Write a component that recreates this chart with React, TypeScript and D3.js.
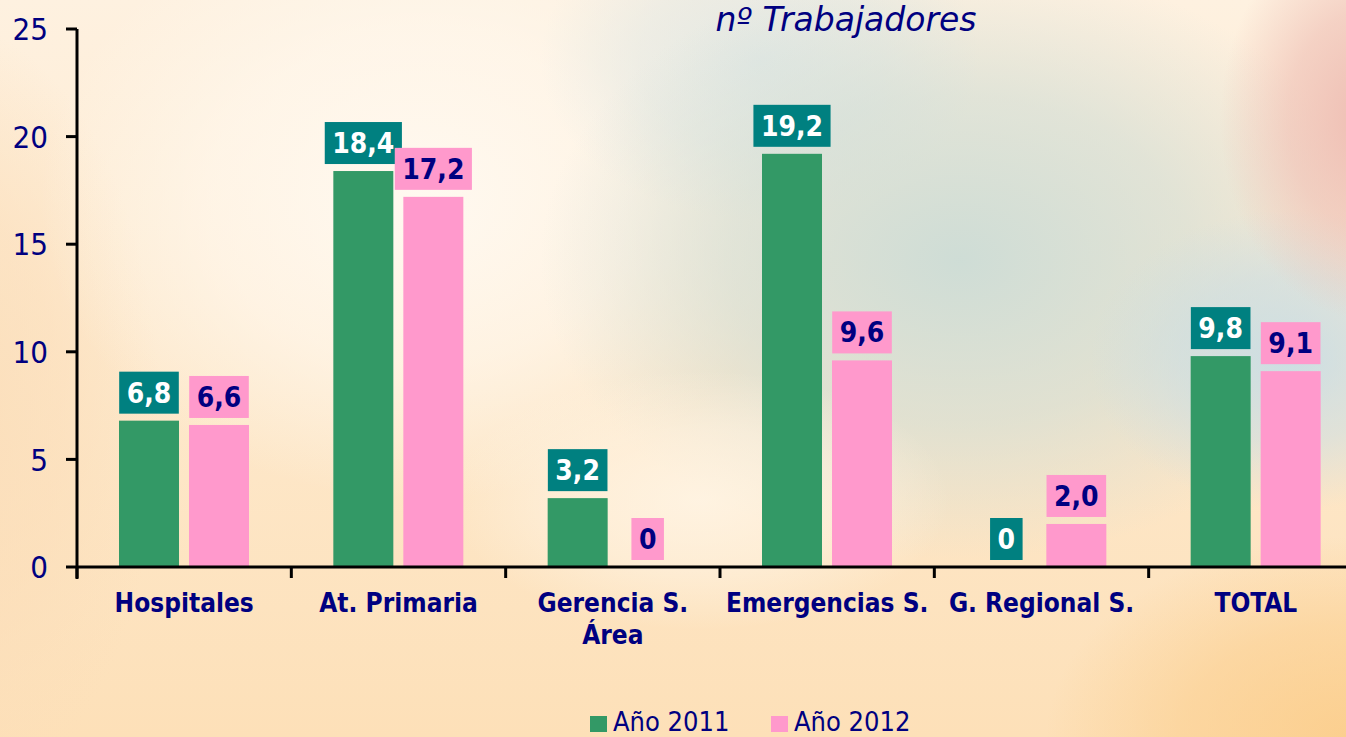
import React, { useEffect, useRef } from "react";
import * as d3 from "d3";

const categories = ["Hospitales", "At. Primaria", "Gerencia S.|Área", "Emergencias S.", "G. Regional S.", "TOTAL"];
const series = ["Año 2011", "Año 2012"];
const values2011 = [6.8, 18.4, 3.2, 19.2, 0, 9.8];
const values2012 = [6.6, 17.2, 0, 9.6, 2.0, 9.1];
const yTicks = [0, 5, 10, 15, 20, 25];

const W = 1346;
const H = 737;
const NAVY = "#000080";
const barColors = ["#339966", "#FF99CC"];
const boxColors = ["#008080", "#FF99CC"];
const boxText = ["#FFFFFF", "#000080"];
const FONT = "'DejaVu Sans Condensed', 'DejaVu Sans', Verdana, sans-serif";

function fmt(v: number) {
  if (v === 0) return "0";
  return v.toFixed(1).replace(".", ",");
}

export default function App() {
  const ref = useRef<SVGSVGElement>(null);

  useEffect(() => {
    document.body.style.margin = "0";
    const svg = d3.select(ref.current);
    svg.selectAll("*").remove();

    // background: peach base with a bluish wash on the right
    const defs = svg.append("defs");
    const addRadial = (id: string, cx: number, cy: number, rx: number, ry: number, color: string, op: number) => {
      const g = defs.append("radialGradient").attr("id", id)
        .attr("gradientUnits", "userSpaceOnUse")
        .attr("cx", 0).attr("cy", 0).attr("r", 1)
        .attr("gradientTransform", `translate(${cx},${cy}) scale(${rx},${ry})`);
      g.append("stop").attr("offset", "0%").attr("stop-color", color).attr("stop-opacity", op);
      g.append("stop").attr("offset", "55%").attr("stop-color", color).attr("stop-opacity", op * 0.6);
      g.append("stop").attr("offset", "100%").attr("stop-color", color).attr("stop-opacity", 0);
    };
    const lin = defs.append("linearGradient").attr("id", "bgBase").attr("x1", 0).attr("y1", 0).attr("x2", 0).attr("y2", 1);
    lin.append("stop").attr("offset", "0%").attr("stop-color", "#FEF1E0");
    lin.append("stop").attr("offset", "100%").attr("stop-color", "#FDE0B8");
    addRadial("bgCream", 420, 200, 380, 300, "#FFF9F0", 1);
    addRadial("bgBlue", 960, 260, 420, 300, "#CCDCD6", 0.95);
    addRadial("bgBlue3", 760, 60, 220, 160, "#DDE7E6", 0.8);
    addRadial("bgBlue2", 1290, 360, 200, 150, "#C8DDE5", 0.9);
    addRadial("bgPink", 1370, 120, 150, 200, "#EEBDB3", 1);
    addRadial("bgLeft", -60, 420, 220, 400, "#FBDDB8", 0.9);
    addRadial("bgLight", 700, 500, 250, 130, "#FFF6E8", 0.8);
    addRadial("bgOrange", 1346, 737, 300, 200, "#FBCB85", 0.8);

    svg.append("rect").attr("width", W).attr("height", H).attr("fill", "url(#bgBase)");
    ["bgLeft", "bgCream", "bgBlue3", "bgBlue", "bgBlue2", "bgPink", "bgLight", "bgOrange"].forEach((id) => {
      svg.append("rect").attr("width", W).attr("height", H).attr("fill", `url(#${id})`);
    });

    const x0 = 77;
    const y = d3.scaleLinear().domain([0, 25]).range([567, 29]);
    const x = d3.scaleBand<string>().domain(categories).range([x0, 1363]).paddingInner(0).paddingOuter(0);
    const xs = d3.scaleBand<string>().domain(series).range([42, 172]).paddingInner(0.143);

    // title
    svg.append("text").attr("x", 846).attr("y", 31).attr("text-anchor", "middle")
      .attr("font-family", "'DejaVu Sans', Verdana, sans-serif").attr("font-style", "italic")
      .attr("font-size", 33).attr("fill", NAVY).text("nº Trabajadores");

    // y axis
    const yAxis = svg.append("g");
    yAxis.append("line").attr("x1", x0).attr("x2", x0).attr("y1", y(25)).attr("y2", y(0) + 12)
      .attr("stroke", "#000").attr("stroke-width", 3);
    yTicks.forEach((t) => {
      yAxis.append("line").attr("x1", x0 - 11).attr("x2", x0).attr("y1", y(t)).attr("y2", y(t))
        .attr("stroke", "#000").attr("stroke-width", 3);
      yAxis.append("text").attr("x", 48).attr("y", y(t)).attr("dy", "0.36em").attr("text-anchor", "end")
        .attr("font-family", FONT).attr("font-size", 31).attr("fill", NAVY).text(String(t));
    });

    // bars with boxed value labels
    const data = categories.map((c, i) => ({ cat: c, vals: [values2011[i], values2012[i]] }));
    const groups = svg.append("g").selectAll("g").data(data).join("g")
      .attr("transform", (d) => `translate(${x(d.cat)},0)`);

    groups.each(function (d) {
      const g = d3.select(this);
      d.vals.forEach((v, si) => {
        const bx = xs(series[si])!;
        const bw = xs.bandwidth();
        if (v > 0) {
          g.append("rect").attr("x", bx).attr("width", bw).attr("y", y(v)).attr("height", y(0) - y(v))
            .attr("fill", barColors[si]);
        }
        const boxBottom = y(v) - 7;
        const t = g.append("text").attr("x", bx + bw / 2).attr("y", boxBottom - 21).attr("dy", "0.36em")
          .attr("text-anchor", "middle").attr("font-family", FONT).attr("font-weight", "bold")
          .attr("font-size", 28).attr("fill", boxText[si]).text(fmt(v));
        const tw = (t.node() as SVGTextElement).getComputedTextLength();
        const bwBox = tw + 15;
        g.insert("rect", "text").attr("x", bx + bw / 2 - bwBox / 2).attr("width", bwBox)
          .attr("y", boxBottom - 42).attr("height", 42).attr("fill", boxColors[si]);
      });
    });

    // x axis
    const xAxis = svg.append("g");
    xAxis.append("line").attr("x1", x0).attr("x2", W).attr("y1", y(0)).attr("y2", y(0))
      .attr("stroke", "#000").attr("stroke-width", 3);
    categories.forEach((c) => {
      const xp = x(c)!;
      xAxis.append("line").attr("x1", xp).attr("x2", xp).attr("y1", y(0)).attr("y2", y(0) + 11)
        .attr("stroke", "#000").attr("stroke-width", 3);
      const lines = c.split("|");
      const txt = xAxis.append("text").attr("text-anchor", "middle").attr("font-family", FONT)
        .attr("font-weight", "bold").attr("font-size", 26).attr("fill", NAVY);
      lines.forEach((ln, li) => {
        txt.append("tspan").attr("x", xp + x.bandwidth() / 2).attr("y", 612 + li * 32).text(ln);
      });
    });

    // legend
    const legendX = [590, 771];
    series.forEach((s, i) => {
      svg.append("rect").attr("x", legendX[i]).attr("y", 716).attr("width", 17).attr("height", 16)
        .attr("fill", barColors[i]);
      svg.append("text").attr("x", legendX[i] + 23).attr("y", 731).attr("font-family", FONT)
        .attr("font-size", 27).attr("fill", NAVY).text(s);
    });
  }, []);

  return <svg ref={ref} width={W} height={H} style={{ display: "block" }} />;
}
